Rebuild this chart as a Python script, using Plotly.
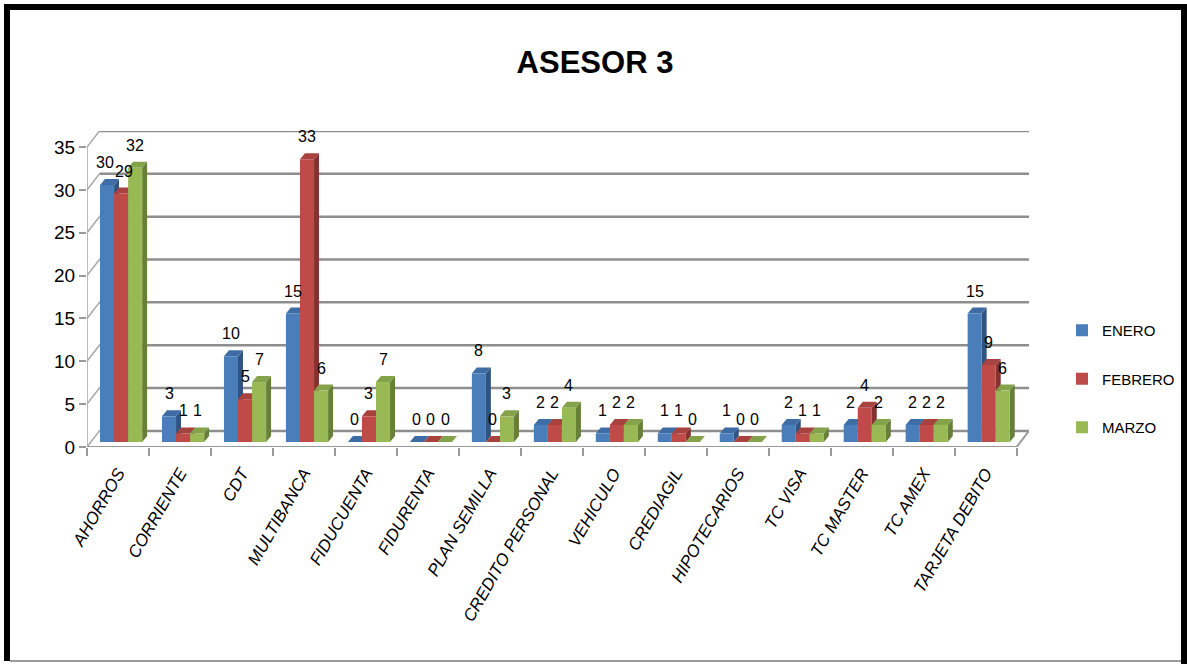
import plotly.graph_objects as go

# ---- data -------------------------------------------------------------
categories = ["AHORROS", "CORRIENTE", "CDT", "MULTIBANCA", "FIDUCUENTA",
              "FIDURENTA", "PLAN SEMILLA", "CREDITO PERSONAL", "VEHICULO",
              "CREDIAGIL", "HIPOTECARIOS", "TC VISA", "TC MASTER", "TC AMEX",
              "TARJETA DEBITO"]
enero = [30, 3, 10, 15, 0, 0, 8, 2, 1, 1, 1, 2, 2, 2, 15]
febrero = [29, 1, 5, 33, 3, 0, 0, 2, 2, 1, 0, 1, 4, 2, 9]
marzo = [32, 1, 7, 6, 7, 0, 3, 4, 2, 0, 0, 1, 2, 2, 6]
series_names = ["ENERO", "FEBRERO", "MARZO"]
y_ticks = [0, 5, 10, 15, 20, 25, 30, 35]

# ---- styling ------------------------------------------------------------
FONT = "Liberation Sans, Arial, sans-serif"
front_col = ["#4A7EBB", "#BE4B48", "#98B954"]
top_col = ["#3E6DA6", "#A8423F", "#84A24A"]
side_col = ["#2F5482", "#86312F", "#66803A"]
GRID = "#8E8E8E"

W, H = 1187, 664
PL, PR, PT, PB = 87, 1029, 131, 447      # plot-area edges in pixels

# pseudo-3D geometry in data units (bar plane is the reference)
FX, FY = -0.05, -0.58     # front edge of the floor / value axis
BX, BY = 0.15, 1.30       # back wall
DX, DY = 0.08, 0.70       # depth of each bar
BARGAP = 0.32
n = len(categories)
ymax = y_ticks[-1]
x_range = [-0.5 + FX, n - 0.5 + BX]
y_range = [FY, ymax + BY]
bar_w = (1 - BARGAP) / 3
px_per_x = (PR - PL) / (x_range[1] - x_range[0])
px_per_y = (PB - PT) / (y_range[1] - y_range[0])
LABEL_SIZE = 16


def paper(xp, yp):
    return (xp - PL) / (PR - PL), (PB - yp) / (PB - PT)


fig = go.Figure()
values = [enero, febrero, marzo]
for k, (name, vals) in enumerate(zip(series_names, values)):
    fig.add_trace(go.Bar(
        x=list(range(n)), y=vals, name=name,
        marker=dict(color=front_col[k], line=dict(width=0)),
        legendgroup=name, hoverinfo="x+y",
    ))

shapes = []
line_kw = dict(xref="x", yref="y", layer="below")

# back wall and side wall grid
for v in y_ticks:
    shapes.append(dict(type="line", x0=-0.5 + BX, x1=n - 0.5 + BX,
                       y0=v + BY, y1=v + BY,
                       line=dict(color=GRID, width=2.5), **line_kw))
    shapes.append(dict(type="line", x0=-0.5 + FX, x1=-0.5 + BX,
                       y0=v + FY, y1=v + BY,
                       line=dict(color="#A6A6A6", width=1.5), **line_kw))
# floor outline and front value axis
shapes.append(dict(type="line", x0=-0.5 + FX, x1=n - 0.5 + FX, y0=FY, y1=FY,
                   line=dict(color="#9A9A9A", width=2), **line_kw))
shapes.append(dict(type="line", x0=n - 0.5 + FX, x1=n - 0.5 + BX, y0=FY, y1=BY,
                   line=dict(color="#9A9A9A", width=2), **line_kw))
shapes.append(dict(type="line", x0=-0.5 + FX, x1=-0.5 + FX, y0=FY, y1=ymax + FY,
                   line=dict(color="#A6A6A6", width=1.5), **line_kw))

# top and side faces of every bar (drawn under the bar fronts)
for k, vals in enumerate(values):
    for c, v in enumerate(vals):
        xl = c - (1 - BARGAP) / 2 + k * bar_w
        xr = xl + bar_w
        top = f"M{xl},{v} L{xr},{v} L{xr + DX},{v + DY} L{xl + DX},{v + DY} Z"
        side = f"M{xr},0 L{xr},{v} L{xr + DX},{v + DY} L{xr + DX},{DY} Z"
        shapes.append(dict(type="path", path=side, xref="x", yref="y",
                           layer="between", fillcolor=side_col[k],
                           line=dict(width=0)))
        shapes.append(dict(type="path", path=top, xref="x", yref="y",
                           layer="between", fillcolor=top_col[k],
                           line=dict(width=0)))

# outer frame of the chart
def frame_rect(x0p, y0p, x1p, y1p, color):
    a = paper(x0p, y0p)
    b = paper(x1p, y1p)
    return dict(type="rect", xref="paper", yref="paper", x0=a[0], y0=a[1],
                x1=b[0], y1=b[1], fillcolor=color, line=dict(width=0),
                layer="above")

shapes.append(frame_rect(4, 4, 1187, 10, "#000000"))
shapes.append(frame_rect(4, 4, 10, 661, "#000000"))
shapes.append(frame_rect(1181, 4, 1187, 664, "#000000"))
shapes.append(frame_rect(10, 660, 1181, 662, "#9A9A9A"))


# value labels; neighbours that would collide are pushed slightly apart
def label_width(v):
    return 0.56 * LABEL_SIZE * len(str(v))


shift = [[0.0] * n for _ in range(3)]
for c in range(n):
    for k in range(2):
        a, b = values[k][c], values[k + 1][c]
        need = (label_width(a) + label_width(b)) / 2 + 1 - bar_w * px_per_x
        if need > 0 and abs(a - b) * px_per_y < LABEL_SIZE:
            shift[k][c] -= need / 2
            shift[k + 1][c] += need / 2

annotations = []
for k, vals in enumerate(values):
    for c, v in enumerate(vals):
        xc = c - (1 - BARGAP) / 2 + (k + 0.5) * bar_w
        annotations.append(dict(x=xc, y=v + DY, xref="x", yref="y",
                                text=str(v), showarrow=False,
                                yanchor="bottom", yshift=6, xshift=shift[k][c],
                                font=dict(family=FONT, size=LABEL_SIZE,
                                          color="#000000")))

fig.update_layout(
    width=W, height=H, autosize=False,
    template="none",
    paper_bgcolor="white", plot_bgcolor="white",
    margin=dict(l=PL, r=W - PR, t=PT, b=H - PB, pad=0),
    barmode="group", bargap=BARGAP, bargroupgap=0,
    title=dict(text="<b>ASESOR 3</b>", x=595 / W, xref="container",
               xanchor="center", y=1 - 62 / H, yref="container",
               yanchor="middle",
               font=dict(family=FONT, size=31, color="#000000")),
    xaxis=dict(range=x_range, showgrid=False, zeroline=False, showline=False,
               tickmode="array", tickvals=[c + FX for c in range(n)],
               ticktext=[f"<i>{c}</i>" for c in categories],
               ticks="", tickangle=-60, ticklabelstandoff=12,
               tickfont=dict(family=FONT, size=17, color="#000000",
                             style="italic"),
               minor=dict(tickmode="array",
                          tickvals=[c - 0.5 + FX for c in range(n + 1)],
                          ticks="outside", ticklen=8, tickcolor="#9A9A9A",
                          tickwidth=1.5, showgrid=False),
               automargin=False, fixedrange=True),
    yaxis=dict(range=y_range, showgrid=False, zeroline=False, showline=False,
               tickmode="array", tickvals=[v + FY for v in y_ticks],
               ticktext=[str(v) for v in y_ticks],
               ticks="outside", ticklen=7, tickcolor="#9A9A9A", tickwidth=1.5,
               tickfont=dict(family=FONT, size=19, color="#000000"),
               automargin=False, fixedrange=True),
    legend=dict(xref="container", yref="container", x=1062 / W,
                y=1 - 314 / H, xanchor="left", yanchor="top",
                bgcolor="rgba(0,0,0,0)", tracegroupgap=26,
                font=dict(family=FONT, size=15, color="#000000")),
    shapes=shapes,
    annotations=annotations,
    showlegend=True,
)

fig.write_html("out.html")
